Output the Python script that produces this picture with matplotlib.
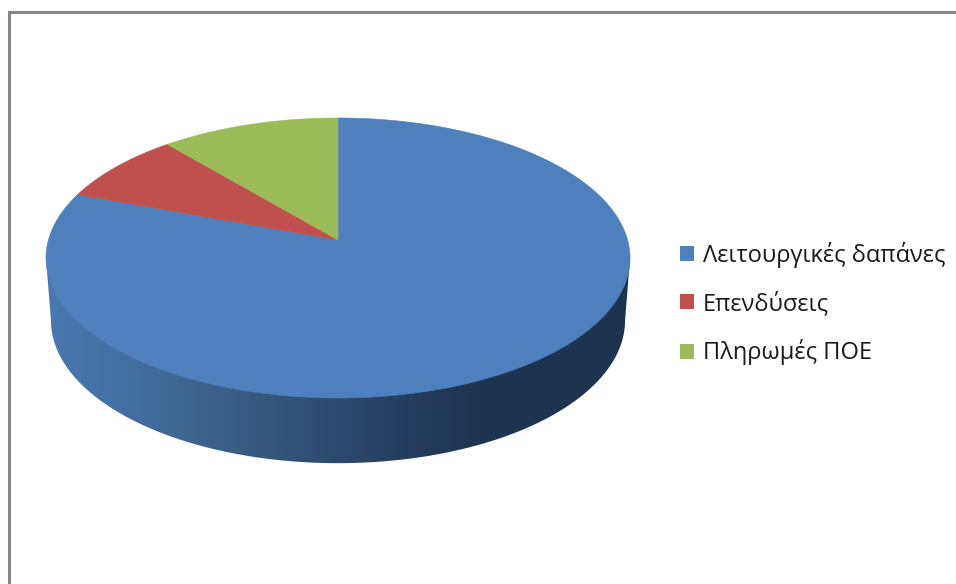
import numpy as np
import matplotlib
matplotlib.use('Agg')
import matplotlib.pyplot as plt
from matplotlib.colors import LinearSegmentedColormap
from matplotlib.patches import Patch, Polygon

categories = ['Λειτουργικές δαπάνες', 'Επενδύσεις', 'Πληρωμές ΠΟΕ']
values = [80.6, 8.2, 11.2]
colors = ['#4d80bc', '#c0504d', '#9bbb59']

# pie geometry in pixels, perspective tilt makes the apex sit above the ellipse centre
apex_x, apex_y = 338, 240
half_w, half_h = 289.6, 137.7
tilt = 0.1285
depth = 62

# side shading, left to right
side_stops = [(0.0, '#4a78b0'), (0.18, '#426b9c'), (0.35, '#38597f'),
              (0.50, '#2d4a6e'), (0.64, '#233b5b'), (0.76, '#1d3450'),
              (1.0, '#1d3450')]


def project(angle, scale_x=1.0, scale_y=1.0, shift=0.0):
    # angle is clockwise from 12 o'clock, in radians
    u, v = np.sin(angle), np.cos(angle)
    px = apex_x + scale_x * half_w * u / (1 + tilt * v)
    py = apex_y + shift - scale_y * half_h * v / (1 + tilt * v)
    return px, py


fig = plt.figure(figsize=(9.56, 5.84), dpi=100)
ax = fig.add_axes([0, 0, 1, 1])

# frame, only the top and left edges are in the crop
ax.plot([9, 9, 956], [584, 12, 12], color='#868686', lw=2.2,
        solid_joinstyle='miter', zorder=1)

# extruded side
t = np.linspace(0, 2 * np.pi, 721)
low = np.cos(t) < -tilt
bx, by = project(t[low], 0.983, 1.02, depth)
rim = np.arccos(-tilt)
lx, ly = project(np.array([2 * np.pi - rim, rim]))
side_x = np.r_[lx[1], bx, lx[0]]
side_y = np.r_[ly[1], by, ly[0]]
clip = Polygon(np.c_[side_x, side_y], closed=True, transform=ax.transData,
               fc='none', ec='none')
ax.add_patch(clip)
cmap = LinearSegmentedColormap.from_list('side', side_stops)
grad = ax.imshow(np.linspace(0, 1, 584)[None, :], cmap=cmap, aspect='auto',
                 extent=[47, 630, 470, 250], zorder=2, interpolation='bilinear')
grad.set_clip_path(clip)

# top face wedges
start = 0.0
total = sum(values)
for val, col in zip(values, colors):
    sweep = val / total * 2 * np.pi
    arc = np.linspace(start, start + sweep, 300)
    px, py = project(arc)
    ax.fill(np.r_[apex_x, px], np.r_[apex_y, py], color=col, lw=0.4, zorder=3)
    start += sweep

handles = [Patch(fc=c, ec='none') for c in colors]
leg = ax.legend(handles, categories, loc='upper left',
                bbox_to_anchor=(680 / 956, 1 - 242 / 584), frameon=False,
                prop={'family': 'Open Sans', 'size': 17},
                handlelength=0.6, handleheight=0.6, handletextpad=0.38,
                labelspacing=0.99, labelcolor='#1a1a1a',
                borderpad=0, borderaxespad=0)

ax.set_xlim(0, 956)
ax.set_ylim(584, 0)
ax.axis('off')

fig.savefig('out.png', dpi=100, facecolor='white')
